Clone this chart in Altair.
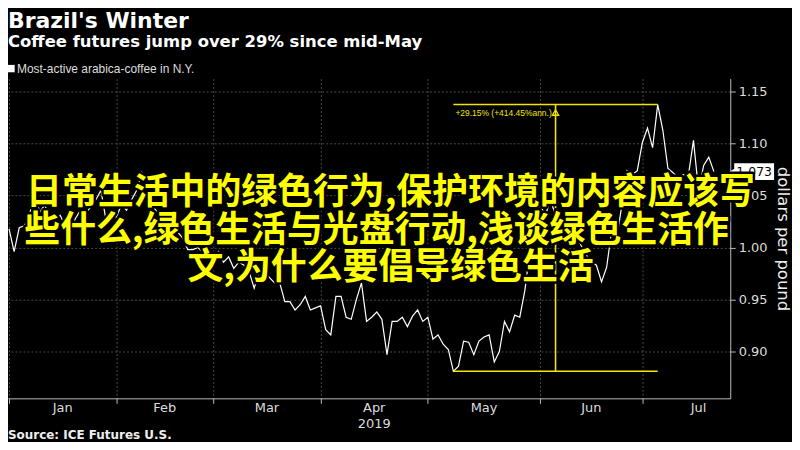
import altair as alt
import pandas as pd

# ---------------- data ----------------
title_text = "Brazil's Winter"
subtitle_text = "Coffee futures jump over 29% since mid-May"
legend_label = "Most-active arabica-coffee in N.Y."
source_text = "Source: ICE Futures U.S."
y_title = "dollars per pound"
year_label = "2019"
ann_label = "+29.15% (+414.45%ann.)"
overlay_lines = [
    "日常生活中的绿色行为,保护环境的内容应该写",
    "些什么,绿色生活与光盘行动,浅谈绿色生活作",
    "文,为什么要倡导绿色生活",
]

months = ["Jan", "Feb", "Mar", "Apr", "May", "Jun", "Jul"]
# trading-day index of the first session of each month (last = end of July)
month_starts = [0, 21, 40, 61, 82, 104, 124, 146]
y_ticks = [0.90, 0.95, 1.00, 1.05, 1.10, 1.15]

# daily settlement, dollars per pound (trading days from Jan 2, 2019)
prices = [
    1.018, 0.996, 1.019, 1.021, 1.031, 1.053, 1.034, 1.041, 1.028, 1.025,
    1.031, 1.021, 1.015, 1.028, 1.036, 1.033, 1.039, 1.046, 1.055, 1.026,
    1.032, 1.029, 1.041, 1.036, 1.046, 1.055, 1.072, 1.055, 1.041, 1.034,
    1.033, 1.022, 1.025, 1.015, 1.009, 0.998, 0.998, 1.000, 0.995, 1.003,
    0.986, 0.996, 0.986, 0.991, 0.980, 0.986, 0.983, 0.977, 0.961, 0.977,
    0.977, 0.971, 0.966, 0.966, 0.948, 0.948, 0.940, 0.945, 0.953, 0.940,
    0.942, 0.944, 0.921, 0.916, 0.953, 0.953, 0.933, 0.931, 0.950, 0.966,
    0.929, 0.933, 0.938, 0.931, 0.897, 0.929, 0.929, 0.933, 0.924, 0.934,
    0.940, 0.929, 0.933, 0.912, 0.916, 0.907, 0.902, 0.881, 0.886, 0.910,
    0.909, 0.897, 0.910, 0.914, 0.916, 0.890, 0.900, 0.929, 0.919, 0.935,
    0.933, 0.959, 0.998, 1.033, 1.041, 1.031, 1.046, 1.031, 1.017, 1.022,
    1.012, 1.015, 1.002, 0.993, 0.986, 0.983, 0.967, 0.981, 1.017, 1.010,
    1.041, 1.074, 1.070, 1.074, 1.101, 1.115, 1.096, 1.1375, 1.113, 1.076,
    1.072, 1.067, 1.070, 1.069, 1.103, 1.055, 1.079, 1.087, 1.073,
]

# ---------------- layout / style ----------------
W, H = 725, 321
X_DOMAIN = [-0.2, 141.2]
Y_DOMAIN = [0.855, 1.1625]
YELLOW = "#f2e600"
GRID = "#4a4a4a"
AXIS = "#bbbbbb"
LABEL = "#dddddd"

xs = alt.Scale(domain=X_DOMAIN, nice=False, zero=False)
ys = alt.Scale(domain=Y_DOMAIN, nice=False, zero=False)

x_axis = alt.Axis(
    values=month_starts[:-1], labels=False, title=None, grid=True,
    gridColor=GRID, gridDash=[2, 2], tickSize=5, tickColor=AXIS,
    domainColor=AXIS)
y_axis = alt.Axis(
    orient="right", values=y_ticks, format=".2f", title=y_title,
    grid=True, gridColor=GRID, gridDash=[2, 2], tickSize=5,
    tickColor=AXIS, domainColor=AXIS, labelColor=LABEL,
    labelFont="DejaVu Sans", labelFontSize=13, labelPadding=3,
    labelAlign="left", titleColor="#eeeeee", titleFont="DejaVu Sans",
    titleFontSize=16.5, titleFontWeight="normal", titleAngle=90,
    titleX=52, titleY=H / 2, titleAlign="center", titleBaseline="middle")


def X(f):
    return alt.X(f, scale=xs, axis=x_axis)


def Y(f):
    return alt.Y(f, scale=ys, axis=y_axis)


df = pd.DataFrame({"day": list(range(len(prices))), "price": prices})

line = alt.Chart(df).mark_line(color="white", strokeWidth=1.2).encode(
    x=X("day:Q"), y=Y("price:Q"))

# month labels centred in each month
mdf = pd.DataFrame({
    "month": months,
    "mid": [(month_starts[k] + month_starts[k + 1]) / 2 for k in range(len(months))],
})
month_text = alt.Chart(mdf).mark_text(
    font="DejaVu Sans", fontSize=13, color=LABEL, baseline="middle"
).encode(x=X("mid:Q"), y=alt.value(331), text="month:N")

year_text = alt.Chart(mdf[mdf.month == "Apr"].assign(yr=year_label)).mark_text(
    font="DejaVu Sans", fontSize=13, color=LABEL, baseline="middle"
).encode(x=X("mid:Q"), y=alt.value(347), text="yr:N")

# annotation: low -> high move
i_lo = int(df.price.idxmin())
i_hi = int(df.price.idxmax())
adf = pd.DataFrame({
    "start": [i_lo], "end": [i_hi], "mid": [(i_lo + i_hi) / 2],
    "low": [prices[i_lo]], "high": [prices[i_hi]], "lab": [ann_label],
})
top_rule = alt.Chart(adf).mark_rule(color=YELLOW, strokeWidth=1.6).encode(
    x=X("start:Q"), x2="end:Q", y=Y("high:Q"))
bot_rule = alt.Chart(adf).mark_rule(color=YELLOW, strokeWidth=1.6).encode(
    x=X("start:Q"), x2="end:Q", y=Y("low:Q"))
vert_rule = alt.Chart(adf).mark_rule(color=YELLOW, strokeWidth=1.6).encode(
    x=X("mid:Q"), y=Y("low:Q"), y2="high:Q")
tri = alt.Chart(adf).mark_point(
    shape="triangle-up", filled=False, size=40, color=YELLOW,
    strokeWidth=1.3, yOffset=8, opacity=1
).encode(x=X("mid:Q"), y=Y("high:Q"))
ann_text = alt.Chart(adf).mark_text(
    font="Liberation Sans", fontSize=8.5, color=YELLOW, align="left",
    baseline="middle", dx=2, dy=8
).encode(x=X("start:Q"), y=Y("high:Q"), text="lab:N")

# last value tag
ldf = pd.DataFrame({"price": [prices[-1]], "lab": [f"{prices[-1]:.3f}"]})
tag_box = alt.Chart(ldf).mark_rule(color="white", strokeWidth=17).encode(
    x=alt.value(729), x2=alt.value(769), y=Y("price:Q"))
tag_ptr = alt.Chart(ldf).mark_point(
    shape="triangle-left", filled=True, size=45, color="white", opacity=1
).encode(x=alt.value(727), y=Y("price:Q"))
tag_text = alt.Chart(ldf).mark_text(
    font="DejaVu Sans", fontSize=12.5, color="black", baseline="middle"
).encode(x=alt.value(749), y=Y("price:Q"), text="lab:N")


def txt(s, x, y, **kw):
    return alt.Chart(pd.DataFrame({"t": [s]})).mark_text(
        align="left", baseline="middle", **kw
    ).encode(x=alt.value(x), y=alt.value(y), text="t:N")


title = txt(title_text, 0, -58, font="DejaVu Sans", fontSize=22,
            fontWeight="bold", color="white")
subtitle = txt(subtitle_text, 0, -37, font="DejaVu Sans", fontSize=16.5,
               fontWeight="bold", color="white")
legend_sq = alt.Chart(pd.DataFrame({"t": [legend_label]})).mark_point(
    shape="square", filled=True, size=55, color="white", opacity=1
).encode(x=alt.value(3), y=alt.value(-10))
legend_txt = txt(legend_label, 9, -10, font="Liberation Sans", fontSize=12,
                 color=LABEL)
source = txt(source_text, 0, 358, font="DejaVu Sans", fontSize=12,
             fontWeight="bold", color="#eeeeee")

# big overlay text (black outline under yellow fill)
overlay_pos = [(384, 115), (370, 153), (384, 190)]
overlay_layers = []
for s, (ox, oy) in zip(overlay_lines, overlay_pos):
    base = alt.Chart(pd.DataFrame({"t": [s]}))
    overlay_layers.append(base.mark_text(
        font="Noto Sans CJK SC", fontSize=36, fontWeight="bold",
        align="center", baseline="middle", fill="black", stroke="black",
        strokeWidth=5, strokeJoin="round"
    ).encode(x=alt.value(ox), y=alt.value(oy), text="t:N"))
for s, (ox, oy) in zip(overlay_lines, overlay_pos):
    base = alt.Chart(pd.DataFrame({"t": [s]}))
    overlay_layers.append(base.mark_text(
        font="Noto Sans CJK SC", fontSize=36, fontWeight="bold",
        align="center", baseline="middle", fill="#ffff00"
    ).encode(x=alt.value(ox), y=alt.value(oy), text="t:N"))

chart = alt.layer(
    line, month_text, year_text,
    top_rule, bot_rule, vert_rule, tri, ann_text,
    tag_box, tag_ptr, tag_text,
    title, subtitle, legend_sq, legend_txt, source,
    *overlay_layers,
).properties(
    width=W, height=H, background="black",
    autosize=alt.AutoSizeParams(type="none"),
    padding={"left": 0, "top": 70, "right": 62, "bottom": 43},
).configure_view(stroke=None)

chart.save("out.html", embed_options={"renderer": "svg", "actions": False})
